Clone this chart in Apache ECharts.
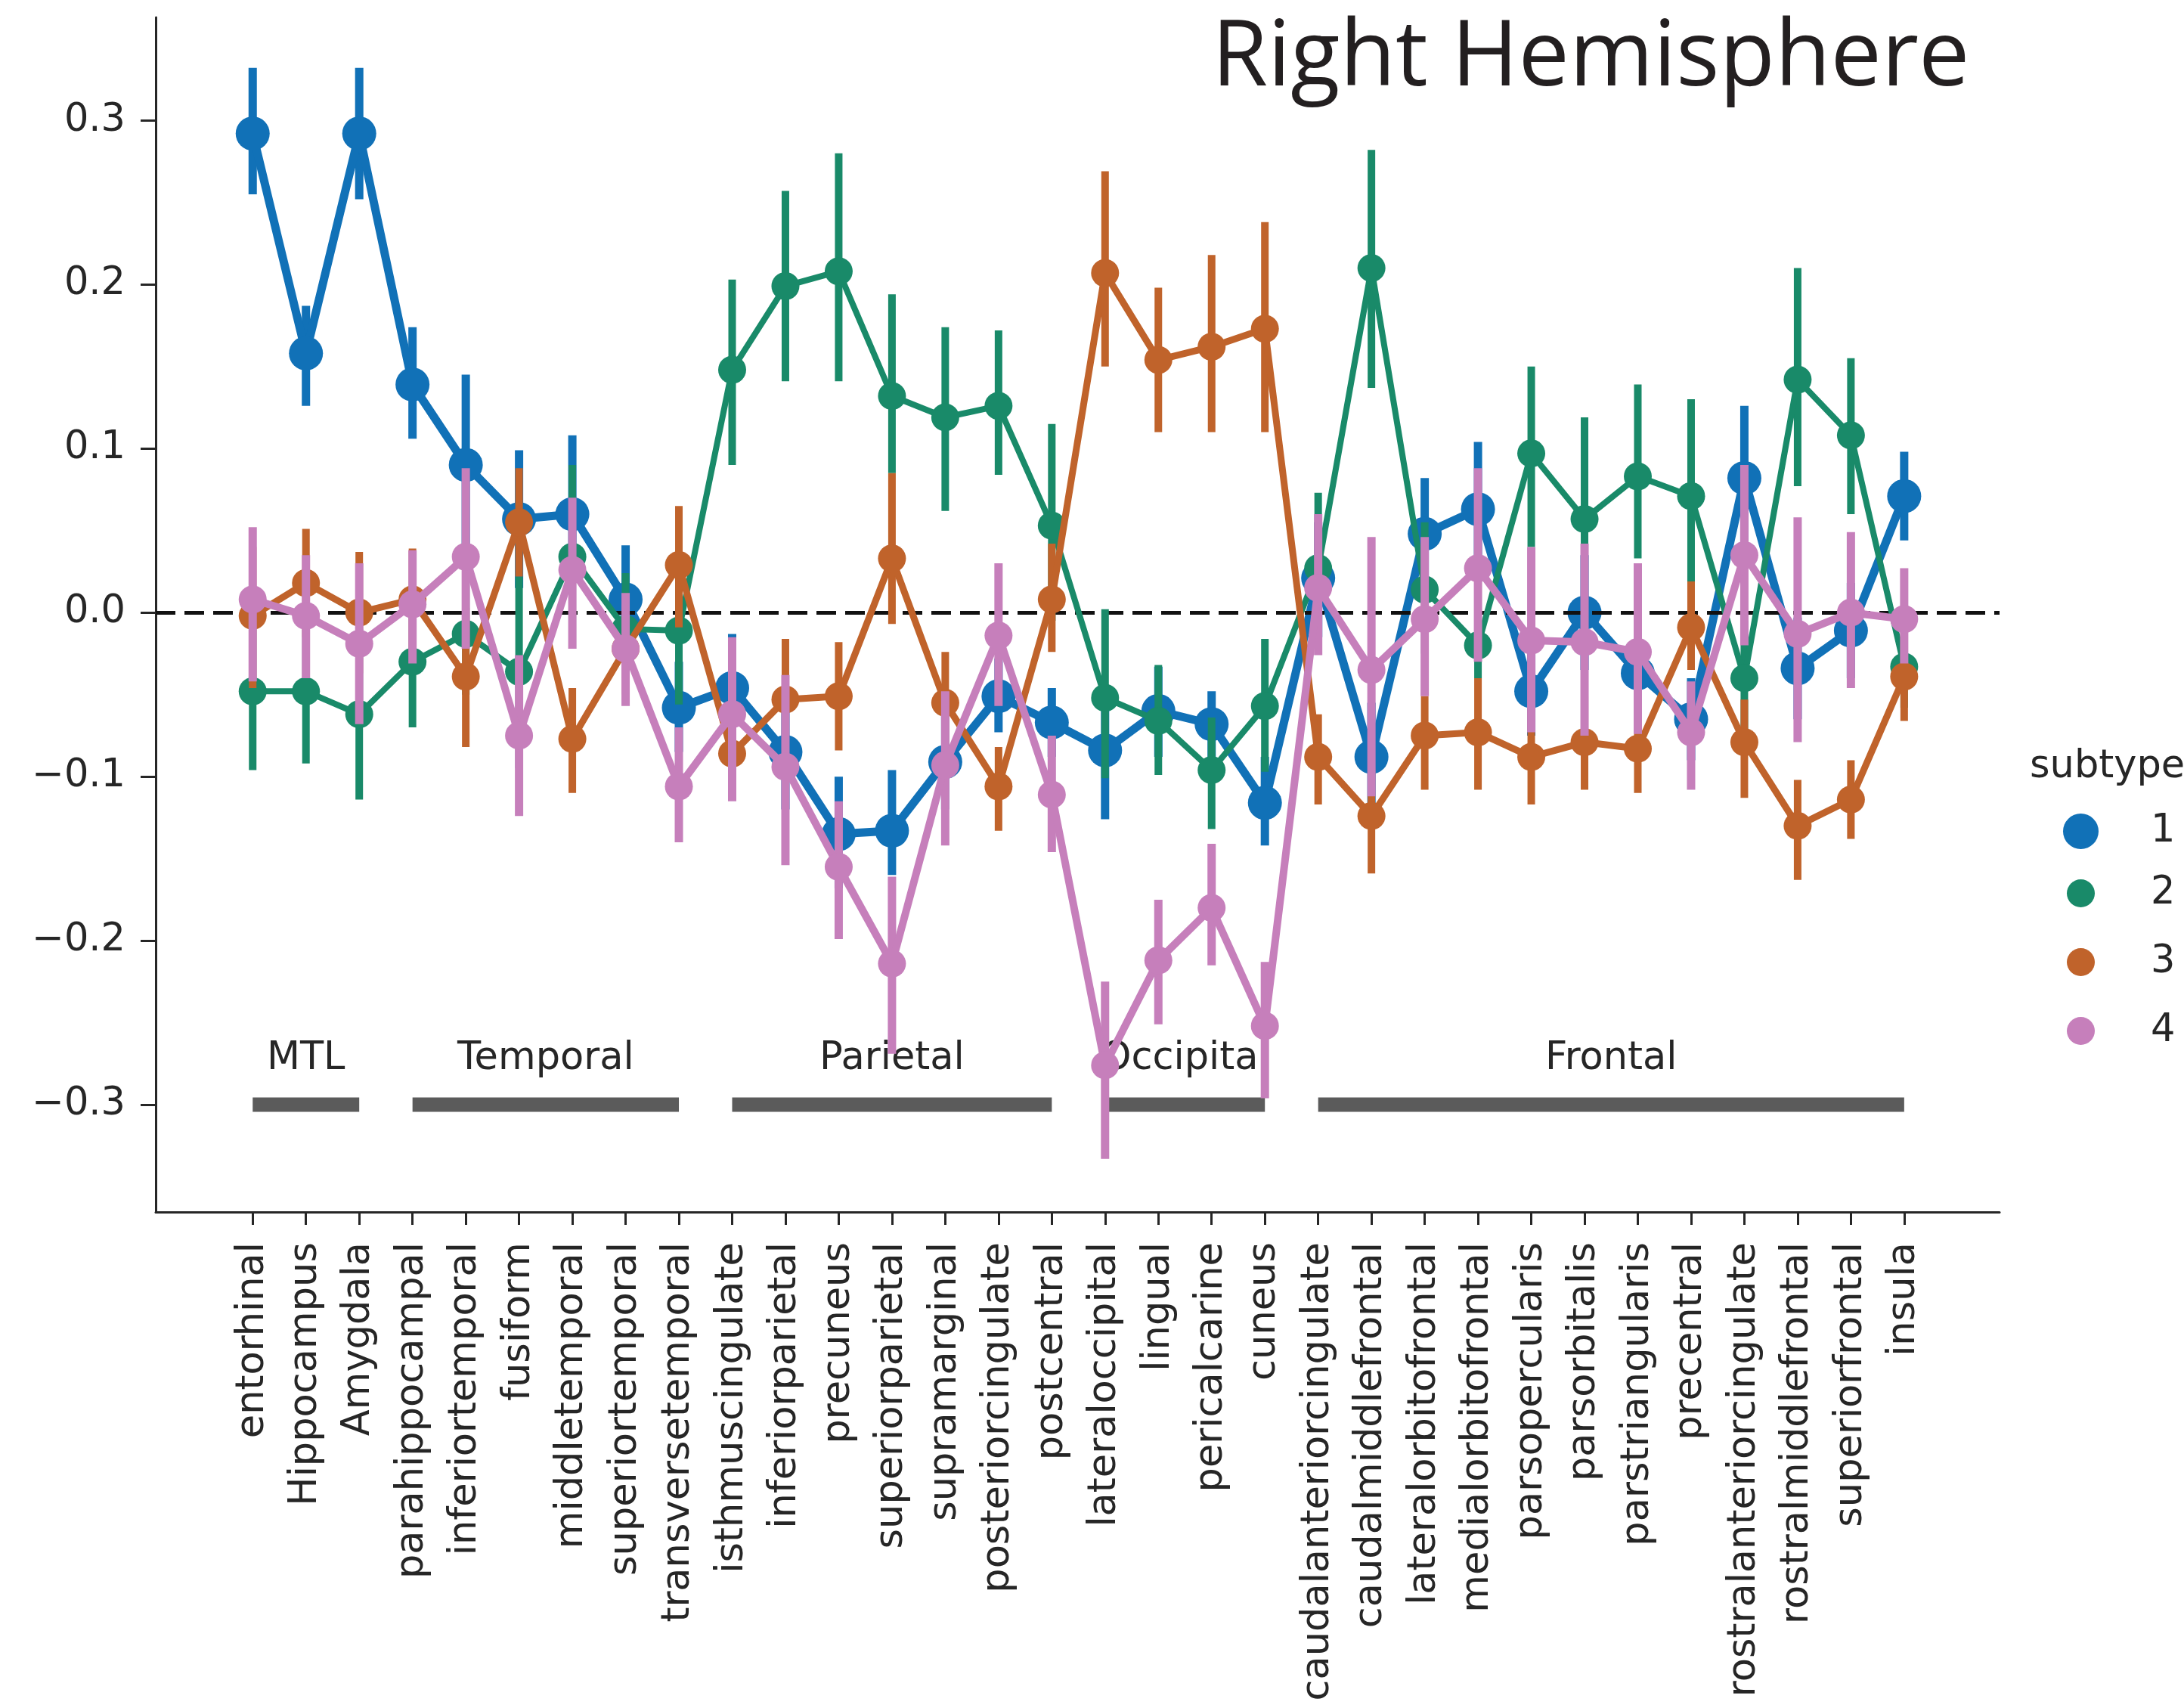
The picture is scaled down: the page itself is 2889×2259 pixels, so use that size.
<!DOCTYPE html>
<html>
<head>
<meta charset="utf-8">
<script src="https://cdn.jsdelivr.net/npm/echarts@6/dist/echarts.min.js"></script>
<style>
html,body{margin:0;padding:0;background:#fff;}
#chart{width:2889px;height:2259px;}
</style>
</head>
<body>
<div id="chart"></div>
<script>
// ---------------- data ----------------
const categories = ['entorhinal','Hippocampus','Amygdala','parahippocampal','inferiortemporal','fusiform',
  'middletemporal','superiortemporal','transversetemporal','isthmuscingulate','inferiorparietal','precuneus',
  'superiorparietal','supramarginal','posteriorcingulate','postcentral','lateraloccipital','lingual',
  'pericalcarine','cuneus','caudalanteriorcingulate','caudalmiddlefrontal','lateralorbitofrontal',
  'medialorbitofrontal','parsopercularis','parsorbitalis','parstriangularis','precentral',
  'rostralanteriorcingulate','rostralmiddlefrontal','superiorfrontal','insula'];
const yTicks = [-0.3, -0.2, -0.1, 0.0, 0.1, 0.2, 0.3];
const subtypes = ['1', '2', '3', '4'];

// subtype 1
const mean1 = [0.292,0.158,0.292,0.139,0.090,0.057,0.060,0.008,-0.058,-0.046,-0.085,-0.135,-0.133,-0.091,-0.051,-0.067,
  -0.084,-0.060,-0.068,-0.116,0.021,-0.088,0.048,0.063,-0.048,0.000,-0.037,-0.065,0.082,-0.034,-0.011,0.071];
const lo1 = [0.255,0.126,0.252,0.106,0.036,0.015,0.018,-0.025,-0.085,-0.080,-0.120,-0.168,-0.160,-0.120,-0.073,-0.088,
  -0.126,-0.088,-0.090,-0.142,-0.015,-0.120,0.012,0.022,-0.075,-0.035,-0.065,-0.090,0.040,-0.065,-0.040,0.044];
const hi1 = [0.332,0.187,0.332,0.174,0.145,0.099,0.108,0.041,-0.030,-0.013,-0.050,-0.100,-0.096,-0.060,-0.028,-0.046,
  -0.045,-0.033,-0.048,-0.088,0.055,-0.055,0.082,0.104,-0.020,0.035,-0.010,-0.040,0.126,-0.003,0.018,0.098];
// subtype 2
const mean2 = [-0.048,-0.048,-0.062,-0.030,-0.013,-0.036,0.034,-0.010,-0.011,0.148,0.199,0.208,0.132,0.119,0.126,0.053,
  -0.052,-0.066,-0.096,-0.057,0.027,0.210,0.014,-0.020,0.097,0.057,0.083,0.071,-0.040,0.142,0.108,-0.033];
const lo2 = [-0.096,-0.092,-0.114,-0.070,-0.050,-0.095,-0.022,-0.040,-0.056,0.090,0.141,0.141,0.085,0.062,0.084,-0.005,
  -0.101,-0.099,-0.132,-0.097,-0.020,0.137,-0.025,-0.040,0.040,0.000,0.033,0.019,-0.075,0.077,0.060,-0.058];
const hi2 = [0.000,-0.004,-0.010,0.010,0.024,0.022,0.090,0.024,0.034,0.203,0.257,0.280,0.194,0.174,0.172,0.115,
  0.002,-0.032,-0.064,-0.016,0.073,0.282,0.055,0.002,0.150,0.119,0.139,0.130,-0.005,0.210,0.155,-0.008];
// subtype 3
const mean3 = [-0.002,0.018,0.000,0.008,-0.039,0.055,-0.077,-0.022,0.029,-0.086,-0.053,-0.051,0.033,-0.055,-0.106,0.008,
  0.207,0.154,0.162,0.173,-0.088,-0.124,-0.075,-0.073,-0.088,-0.079,-0.083,-0.009,-0.079,-0.130,-0.114,-0.039];
const lo3 = [-0.046,-0.015,-0.037,-0.025,-0.082,0.022,-0.110,-0.050,-0.009,-0.114,-0.090,-0.084,-0.007,-0.090,-0.133,-0.024,
  0.150,0.110,0.110,0.110,-0.117,-0.159,-0.108,-0.108,-0.117,-0.108,-0.110,-0.035,-0.113,-0.163,-0.138,-0.066];
const hi3 = [0.040,0.051,0.037,0.039,0.003,0.088,-0.046,0.005,0.065,-0.055,-0.016,-0.018,0.085,-0.024,-0.082,0.042,
  0.269,0.198,0.218,0.238,-0.062,-0.095,-0.051,-0.040,-0.058,-0.051,-0.057,0.019,-0.053,-0.102,-0.090,-0.012];
// subtype 4
const mean4 = [0.008,-0.002,-0.019,0.005,0.034,-0.075,0.026,-0.022,-0.106,-0.062,-0.094,-0.155,-0.214,-0.093,-0.014,-0.111,
  -0.276,-0.212,-0.180,-0.252,0.015,-0.035,-0.004,0.027,-0.017,-0.018,-0.024,-0.073,0.035,-0.013,0.000,-0.004];
const lo4 = [-0.042,-0.040,-0.068,-0.031,-0.022,-0.124,-0.022,-0.057,-0.140,-0.115,-0.154,-0.199,-0.269,-0.142,-0.057,-0.146,
  -0.333,-0.251,-0.215,-0.296,-0.026,-0.112,-0.051,-0.030,-0.073,-0.075,-0.074,-0.108,-0.020,-0.079,-0.046,-0.031];
const hi4 = [0.052,0.035,0.030,0.038,0.088,-0.026,0.070,0.012,-0.070,-0.015,-0.038,-0.115,-0.161,-0.048,0.030,-0.075,
  -0.225,-0.175,-0.141,-0.213,0.060,0.046,0.046,0.088,0.040,0.042,0.030,-0.042,0.090,0.058,0.049,0.027];

const regionNames = ['MTL', 'Temporal', 'Parietal', 'Occipital', 'Frontal'];
const regionStart = [0, 3, 9, 16, 20];
const regionEnd = [2, 8, 15, 19, 31];

// ---------------- styles ----------------
const FONT = 'DejaVu Sans';
const INK = '#262626';
const styles = [
  {color: '#1171b7', lw: 11, ew: 11, ms: 45},
  {color: '#198a69', lw: 8,  ew: 10, ms: 37},
  {color: '#c0632b', lw: 9,  ew: 10, ms: 37},
  {color: '#c67fbb', lw: 10, ew: 11, ms: 37}
];
const means = [mean1, mean2, mean3, mean4];
const los = [lo1, lo2, lo3, lo4];
const his = [hi1, hi2, hi3, hi4];
const REGION_LEVEL = -0.3;
const REGION_LABEL_LEVEL = -0.272;

function fmtTick(v) {
  const r = Math.round(v * 10) / 10;
  const s = Math.abs(r).toFixed(1);
  return r < 0 ? '\u2212' + s : s;
}

const series = [];
// region bars + labels + zero reference line
series.push({
  type: 'custom',
  name: 'regions',
  silent: true,
  z: 1,
  data: regionNames.map((n, i) => [regionStart[i], regionEnd[i], i]),
  encode: {x: [0, 1]},
  renderItem: function (params, api) {
    const p1 = api.coord([api.value(0), REGION_LEVEL]);
    const p2 = api.coord([api.value(1), REGION_LEVEL]);
    const pl = api.coord([(api.value(0) + api.value(1)) / 2, REGION_LABEL_LEVEL]);
    return {
      type: 'group',
      children: [
        {type: 'line', shape: {x1: p1[0], y1: p1[1], x2: p2[0], y2: p2[1]},
         style: {stroke: '#5b5b5b', lineWidth: 19, lineCap: 'butt'}},
        {type: 'text', style: {text: regionNames[api.value(2)], x: pl[0], y: pl[1],
          textAlign: 'center', textVerticalAlign: 'middle', font: '51px "DejaVu Sans"', fill: INK}}
      ]
    };
  },
  markLine: {
    silent: true,
    symbol: ['none', 'none'],
    label: {show: false},
    lineStyle: {color: '#111111', width: 5, type: [26, 12]},
    data: [{yAxis: 0}]
  }
});

for (let k = 0; k < 4; k++) {
  const st = styles[k];
  series.push({
    type: 'custom',
    name: subtypes[k] + ' CI',
    silent: true,
    z: 3 + 3 * k,
    data: categories.map((c, i) => [i, los[k][i], his[k][i]]),
    encode: {x: 0, y: [1, 2]},
    renderItem: function (params, api) {
      const a = api.coord([api.value(0), api.value(1)]);
      const b = api.coord([api.value(0), api.value(2)]);
      return {type: 'line', shape: {x1: a[0], y1: a[1], x2: b[0], y2: b[1]},
        style: {stroke: st.color, lineWidth: st.ew, lineCap: 'butt'}};
    }
  });
  series.push({
    type: 'line',
    name: subtypes[k],
    z: 4 + 3 * k,
    data: categories.map((c, i) => [i, means[k][i]]),
    symbol: 'circle',
    symbolSize: st.ms,
    showSymbol: true,
    lineStyle: {width: st.lw, color: st.color},
    itemStyle: {color: st.color},
    emphasis: {disabled: true}
  });
}

const chart = echarts.init(document.getElementById('chart'), null, {renderer: 'canvas'});
chart.setOption({
  animation: false,
  backgroundColor: '#ffffff',
  title: [
    {text: 'Right Hemisphere', left: 1598, top: 14,
     textStyle: {fontFamily: 'Open Sans', fontSize: 120, fontWeight: 'normal', color: '#231f20'}},
    {text: 'subtype', left: 2680, top: 984,
     textStyle: {fontFamily: FONT, fontSize: 51, fontWeight: 'normal', color: INK}}
  ],
  legend: [
    {data: ['1'], orient: 'vertical', left: 2724, top: 1069, icon: 'circle',
     itemWidth: 47, itemHeight: 47, selectedMode: false,
     textStyle: {fontFamily: FONT, fontSize: 51, color: INK, padding: [0, 0, 0, 64]}},
    {data: ['2', '3', '4'], orient: 'vertical', left: 2729, top: 1151, icon: 'circle',
     itemWidth: 37, itemHeight: 37, itemGap: 40, selectedMode: false,
     textStyle: {fontFamily: FONT, fontSize: 51, color: INK, padding: [0, 0, 0, 69]}}
  ],
  grid: {left: 206, right: 244, top: 23, bottom: 656, containLabel: false},
  xAxis: {
    type: 'value',
    min: -1.82,
    max: 32.79,
    splitLine: {show: false},
    axisLine: {show: true, onZero: false, lineStyle: {color: INK, width: 3}},
    axisTick: {show: true, length: 17, lineStyle: {color: INK, width: 3},
      customValues: categories.map((c, i) => i)},
    axisLabel: {
      customValues: categories.map((c, i) => i),
      rotate: 90, margin: 40,
      fontFamily: FONT, fontSize: 51, color: INK,
      formatter: function (v) { return categories[Math.round(v)] || ''; }
    }
  },
  yAxis: {
    type: 'value',
    min: -0.3654,
    max: 0.3628,
    splitLine: {show: false},
    axisLine: {show: true, onZero: false, lineStyle: {color: INK, width: 3}},
    axisTick: {show: true, length: 20, lineStyle: {color: INK, width: 3}, customValues: yTicks},
    axisLabel: {customValues: yTicks, margin: 40, fontFamily: FONT, fontSize: 51, color: INK,
      formatter: fmtTick}
  },
  series: series
});
</script>
</body>
</html>
